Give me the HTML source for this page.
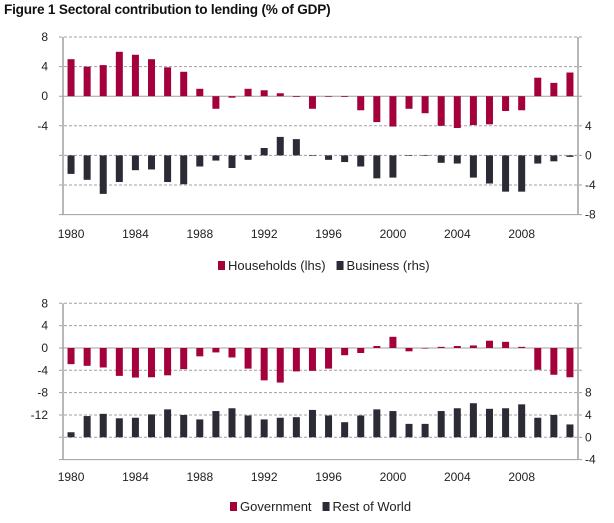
<!DOCTYPE html>
<html><head><meta charset="utf-8"><style>
body{margin:0;background:#fff;width:614px;height:523px;overflow:hidden;font-family:"Liberation Sans",sans-serif}
#title{position:absolute;left:4px;top:2px;font-size:13.6px;font-weight:bold;color:#111;letter-spacing:-0.2px}
svg{position:absolute;left:0;top:0}
</style></head><body>
<div id="title">Figure 1 Sectoral contribution to lending (% of GDP)</div>
<svg id="c" width="614" height="523"></svg>
<script>
const years = [1980,1981,1982,1983,1984,1985,1986,1987,1988,1989,1990,1991,1992,1993,1994,1995,1996,1997,1998,1999,2000,2001,2002,2003,2004,2005,2006,2007,2008,2009,2010,2011];
const xTickLabels = [1980,1984,1988,1992,1996,2000,2004,2008];
const households = [5.0,4.0,4.2,6.0,5.6,5.0,3.9,3.3,1.0,-1.7,-0.2,1.0,0.8,0.4,-0.1,-1.7,0,-0.1,-1.9,-3.5,-4.1,-1.7,-2.3,-4.0,-4.3,-3.9,-3.8,-2.0,-1.9,2.5,1.8,3.2];
const business = [-2.5,-3.3,-5.2,-3.6,-2.0,-1.9,-3.6,-3.9,-1.5,-0.7,-1.7,-0.6,1.0,2.5,2.2,0,-0.6,-0.9,-1.5,-3.1,-3.0,0,-0.05,-1.0,-1.1,-3.0,-3.8,-4.9,-4.9,-1.1,-0.8,-0.2];
const government = [-2.9,-3.2,-3.5,-5.0,-5.3,-5.25,-4.9,-3.8,-1.5,-0.8,-1.7,-3.7,-5.8,-6.2,-4.2,-4.1,-3.7,-1.3,-0.9,0.35,2.0,-0.6,-0.1,0.2,0.35,0.45,1.3,1.1,0.2,-3.9,-4.8,-5.25];
const restOfWorld = [0.9,3.8,4.2,3.4,3.5,4.1,5.0,4.0,3.2,4.7,5.2,3.9,3.2,3.5,3.6,4.9,3.9,2.7,3.9,5.0,4.7,2.4,2.4,4.7,5.2,6.1,5.1,5.2,5.9,3.5,4.0,2.3];
const top1Left = [8,4,0,-4], top1Right = [4,0,-4,-8];
const bot1Left = [8,4,0,-4,-8,-12], bot1Right = [8,4,0,-4];

const svg = document.getElementById('c');
const NS = 'http://www.w3.org/2000/svg';
function mk(tag, attrs, parent){const e=document.createElementNS(NS,tag);for(const k in attrs)e.setAttribute(k,attrs[k]);(parent||svg).appendChild(e);return e;}
const RED='#a3003c', DARK='#2b2b36', GRID='#a0a0a0';
const x0=63, x1=578, slot=(x1-x0)/years.length;
function xc(i){return x0+slot*(i+0.5);}

function panel(cfg){
  const g = mk('g',{});
  
  
  const yL = v => cfg.top + (cfg.lMax - v)*cfg.pxPer;
  const yR = v => cfg.top + (cfg.rMax - v)*cfg.pxPer;
  for(let k=0;k<=cfg.nLines;k++){
    const y=cfg.top+k*cfg.step;
    const solid = (k===cfg.nLines) || Math.abs(y-yL(0))<0.5;
    const l=mk('line',{x1:x0-4,x2:x1+4,y1:y,y2:y,stroke:GRID,'stroke-width':1,'stroke-dasharray':solid?'':'3,2'},g);
    
    
  }
  const al=mk('line',{x1:x0,x2:x0,y1:cfg.top,y2:cfg.top+cfg.nLines*cfg.step,stroke:GRID,'stroke-width':1.5},g);
  
  
  const ar=mk('line',{x1:x1,x2:x1,y1:cfg.top,y2:cfg.top+cfg.nLines*cfg.step,stroke:GRID,'stroke-width':1.5},g);
  
  
  cfg.lTicks.forEach(v=>{const t=mk('text',{x:48,y:yL(v)+4,'text-anchor':'end','font-size':12,fill:'#222'},g);t.textContent=v;
    
    });
  cfg.rTicks.forEach(v=>{const t=mk('text',{x:585,y:yR(v)+4,'text-anchor':'start','font-size':12,fill:'#222'},g);t.textContent=v;
    
    });
  xTickLabels.forEach(yr=>{const i=years.indexOf(yr);const t=mk('text',{x:xc(i),y:cfg.xLabY,'text-anchor':'middle','font-size':12,fill:'#222'},g);t.textContent=yr;
    
    });
  const bw=7;
  cfg.s1.forEach((v,i)=>{const a=yL(0),b=yL(v);const r=mk('rect',{x:xc(i)-bw/2,y:Math.min(a,b),width:bw,height:Math.max(Math.abs(a-b),0.6),fill:RED},g);
    
    });
  cfg.s2.forEach((v,i)=>{const a=yR(0),b=yR(v);const r=mk('rect',{x:xc(i)-bw/2,y:Math.min(a,b),width:bw,height:Math.max(Math.abs(a-b),0.6),fill:DARK},g);
    
    });
  let lx=cfg.legX;
  [[RED,cfg.l1],[DARK,cfg.l2]].forEach(([c,txt],j)=>{
    const r=mk('rect',{x:lx,y:cfg.legY-9,width:7,height:9,fill:c},g);
    
    
    const t=mk('text',{x:lx+10,y:cfg.legY,'font-size':13,fill:'#222'},g);t.textContent=txt;
    
    
    lx+=10+t.getComputedTextLength()+11;
  });
}
panel({name:'top-panel',top:37,step:29.6,nLines:6,pxPer:29.6/4,lMax:8,rMax:16,lTicks:top1Left,rTicks:top1Right,xLabY:238,
  s1:households,s2:business,s1name:'households',s2name:'business',l1:'Households (lhs)',l2:'Business (rhs)',legX:218,legY:270});
panel({name:'bottom-panel',top:303.3,step:22.33,nLines:7,pxPer:22.33/4,lMax:8,rMax:24,lTicks:bot1Left,rTicks:bot1Right,xLabY:481,
  s1:government,s2:restOfWorld,s1name:'government',s2name:'rest-of-world',l1:'Government',l2:'Rest of World',legX:230,legY:511});
</script>
</body></html>
